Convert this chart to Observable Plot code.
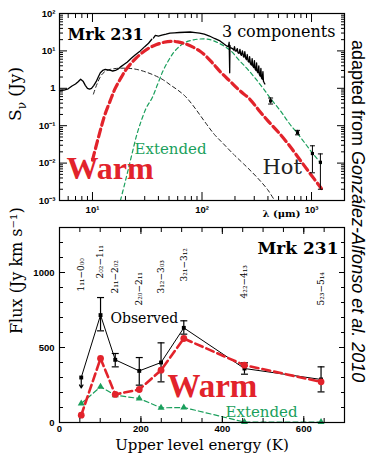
<!DOCTYPE html>
<html><head><meta charset="utf-8">
<script src="https://cdn.jsdelivr.net/npm/d3@7"></script>
<script src="https://cdn.jsdelivr.net/npm/@observablehq/plot@0.6"></script>
<style>
body{margin:0;background:#fff;}
#wrap{position:relative;width:368px;height:457px;overflow:hidden;font-family:"DejaVu Serif",serif;color:#000;}
#wrap svg{position:absolute;left:0;overflow:visible;}
.ylab{position:absolute;white-space:nowrap;transform:translate(-50%,-50%) rotate(-90deg);font-size:17px;font-family:"DejaVu Serif",serif;}
.ylab sub{font-size:12px;}
#credit{position:absolute;left:347px;top:40px;writing-mode:vertical-rl;font:18px "Liberation Sans",Arial,sans-serif;white-space:nowrap;}
</style></head><body><div id="wrap"></div>
<script>
// ---------- top panel data (SED of Mrk 231) ----------
const specALam = [5, 5.5, 6, 6.5, 7, 7.4, 7.8, 8.2, 8.6, 9.0, 9.4, 9.8, 10.3, 10.8, 11.3, 11.8, 12.4, 13.1, 13.8, 14.6, 15.3, 16.2, 17.2, 18.2, 19.5, 20.7, 22.5, 24.5, 27.3, 30, 32.5, 34.8];
const specAS   = [0.86, 0.9, 0.97, 1.15, 1.3, 1.5, 1.75, 1.55, 1.2, 1.0, 0.95, 1.0, 1.2, 1.5, 2.0, 2.6, 3.0, 3.2, 3.1, 3.0, 2.9, 3.0, 3.3, 3.8, 4.4, 5.0, 6.3, 7.8, 10, 13, 16, 20.5];
const specBLam = [36, 37.5, 40, 43, 47, 51, 56, 62, 70, 78, 87, 95, 105, 117, 130, 146, 158, 168, 174, 177, 179, 180, 181, 184, 190, 195, 198, 201, 205, 210, 213, 218, 222, 226, 229, 234, 239, 242, 246, 251, 255, 259, 264, 269, 272, 277, 283, 287, 291, 297, 301, 305, 311, 315, 319, 325, 330, 334, 340, 345, 349, 355, 360, 364, 370, 375];
const specBS   = [22, 26, 25, 26.5, 28, 30, 30.5, 31, 31.5, 32, 31, 30, 28, 25, 21.5, 18.5, 15.5, 13.6, 13, 17, 2.6, 14, 12, 12, 11.5, 10.5, 13, 10, 9.8, 11.5, 9, 8.6, 11, 8, 7.6, 10, 7, 6.8, 9.5, 6.2, 5.8, 8, 5.2, 5.0, 7, 4.5, 4.2, 6.2, 3.9, 3.6, 5.5, 3.3, 3.0, 4.8, 2.8, 2.6, 4, 2.3, 2.1, 3.4, 1.9, 1.75, 2.8, 1.55, 1.4, 1.3];
const photLam = [423, 745, 1019, 1205];
const photS   = [0.46, 0.065, 0.018, 0.0105];
const photLo  = [0.38, 0.057, 0.0055, 0.002];
const photHi  = [0.55, 0.075, 0.029, 0.0176];
const hotLam = [10.2, 11, 12, 13, 14.5, 16.5, 19, 22, 26, 31, 37, 44, 52, 60, 70, 82, 95, 110, 130, 155, 195, 240, 290, 345, 400, 460];
const hotS   = [0.7, 1.3, 2.2, 2.8, 3.2, 3.4, 3.45, 3.4, 3.15, 2.7, 2.2, 1.7, 1.2, 0.9, 0.62, 0.36, 0.2, 0.11, 0.058, 0.034, 0.017, 0.0095, 0.0055, 0.0032, 0.0019, 0.001];
const warmLam = [10, 11, 12, 13, 14.5, 16, 18, 20, 22, 25, 28, 33, 38, 45, 52, 60, 70, 82, 96, 110, 126, 150, 180, 220, 272, 330, 400, 500, 620, 780, 960, 1230];
const warmS   = [0.012, 0.035, 0.09, 0.2, 0.46, 0.95, 1.8, 3.0, 4.3, 6.4, 8.6, 12, 14.5, 17, 18, 17.5, 15.5, 12.8, 9.8, 7, 4.6, 2.6, 1.55, 0.88, 0.52, 0.26, 0.135, 0.066, 0.031, 0.0125, 0.0055, 0.0021];
const extLam = [18, 19.5, 21, 23, 25.5, 28, 31, 35, 39, 44, 49, 55, 61, 67, 75, 84, 96, 110, 125, 146, 180, 220, 257, 300, 357, 430, 520, 620, 745, 900, 1060, 1230];
const extS   = [0.001, 0.0025, 0.006, 0.018, 0.06, 0.14, 0.3, 0.55, 1.2, 2.9, 5.3, 9, 12.5, 15.5, 18.2, 19.8, 20.8, 20.8, 19, 15.5, 10.5, 5.5, 3.4, 2.0, 1.05, 0.5, 0.25, 0.12, 0.062, 0.03, 0.016, 0.0097];
const topXMajor = [10, 100, 1000];
const topXLabels = ["10¹", "10²", "10³"];
const topYMajor = [1e-3, 1e-2, 1e-1, 1, 10, 100];
const topYLabels = ["10⁻³", "10⁻²", "10⁻¹", "1", "10¹", "10²"];

// ---------- bottom panel data (H2O lines) ----------
const energies   = [53.4, 100.8, 136.9, 195.9, 249.4, 305.3, 454.3, 642.4];
const transitions = ["1₁₁−0₀₀", "2₀₂−1₁₁", "2₁₁−2₀₂", "2₂₀−2₁₁", "3₁₂−3₀₃", "3₂₁−3₁₂", "4₂₂−4₁₃", "5₂₃−5₁₄"];
const labelFlux  = [873, 960, 860, 780, 860, 940, 827, 780];
const observed   = [300, 716, 418, 344, 400, 631, 360, 287];
const obsLo      = [null, 611, 371, 249, 271, 589, 322, 204];
const obsHi      = [null, 833, 460, 433, 531, 678, 398, 371];
const upperLimitTo = 230;
const warmFlux   = [49, 427, 187, 220, 349, 560, 382, 271];
const extFlux    = [127, 238, 182, 160, 98, 100, 3, 3];
const botXMajor = [0, 200, 400, 600];
const botYMajor = [0, 500, 1000];

// ---------- styles ----------
const RED = "#e2232b", GREEN = "#1a9f5c";
const tickFont = {fontFamily: "Liberation Sans, Arial, sans-serif", fontSize: 9.5, fontWeight: "bold"};
const capSymbol = {draw(ctx, size) { const w = Math.sqrt(size / Math.PI); ctx.moveTo(-w, 0); ctx.lineTo(w, 0); }};
const rows = (xs, ys) => xs.map((x, i) => ({x, y: ys[i]}));

function minorLog(lo, hi) {
  const out = [];
  for (let d = 1e-3; d <= 1e3; d *= 10) for (let m = 2; m <= 9; m++) { const v = +(d * m).toPrecision(3); if (v >= lo && v <= hi) out.push(v); }
  return out;
}
// inward-pointing ticks: draw the axis ticks then shift them into the frame
function tickSet(kind, anchor, values, len) {
  const shift = anchor === "bottom" ? {dy: -len} : anchor === "top" ? {dy: len} : anchor === "left" ? {dx: len} : {dx: -len};
  const f = kind === "x" ? Plot.axisX : Plot.axisY;
  return f(values, {anchor, tickSize: len, tickFormat: () => null, label: null, strokeWidth: 1, ...shift});
}

// ---------- top plot ----------
const topX = [5, 2000], topY = [1e-3, 100];
const xMinorTop = minorLog(5, 2000), yMinorTop = minorLog(1e-3, 100);
const topPlot = Plot.plot({
  width: 368, height: 226,
  marginLeft: 59, marginRight: 24, marginTop: 13, marginBottom: 26,
  style: {background: "transparent", fontFamily: "DejaVu Serif, serif"},
  x: {type: "log", domain: topX},
  y: {type: "log", domain: topY},
  marks: [
    Plot.line(rows(hotLam, hotS), {x: "x", y: "y", stroke: "#222", strokeWidth: 1, strokeDasharray: "4,3", curve: "catmull-rom", clip: true}),
    Plot.line(rows(extLam, extS), {x: "x", y: "y", stroke: GREEN, strokeWidth: 1.2, strokeDasharray: "4,3", curve: "catmull-rom", clip: true}),
    Plot.line(rows(warmLam, warmS), {x: "x", y: "y", stroke: RED, strokeWidth: 3.2, strokeDasharray: "8,4", curve: "catmull-rom", clip: true}),
    Plot.line(rows(specALam, specAS), {x: "x", y: "y", stroke: "black", strokeWidth: 1.3}),
    Plot.line(rows(specBLam, specBS), {x: "x", y: "y", stroke: "black", strokeWidth: 1.3}),
    Plot.ruleX(photLam.map((l, i) => ({l, lo: photLo[i], hi: photHi[i]})), {x: "l", y1: "lo", y2: "hi", stroke: "black", strokeWidth: 1}),
    Plot.dot(photLam.flatMap((l, i) => [{l, v: photLo[i]}, {l, v: photHi[i]}]), {x: "l", y: "v", symbol: capSymbol, r: 2.5, stroke: "black", strokeWidth: 1, fill: "none"}),
    Plot.dot(rows(photLam, photS), {x: "x", y: "y", symbol: "square", r: 1.8, fill: "black"}),
    Plot.frame({stroke: "black", strokeWidth: 1.2}),
    tickSet("x", "bottom", topXMajor, 8), tickSet("x", "bottom", xMinorTop, 4),
    tickSet("x", "top", topXMajor, 8), tickSet("x", "top", xMinorTop, 4),
    tickSet("y", "left", topYMajor, 8), tickSet("y", "left", yMinorTop, 4),
    tickSet("y", "right", topYMajor, 8), tickSet("y", "right", yMinorTop, 4),
    Plot.axisX(topXMajor, {anchor: "bottom", tickSize: 0, tickPadding: 6, tickFormat: d => topXLabels[topXMajor.indexOf(d)], label: null, ...tickFont}),
    Plot.axisY(topYMajor, {anchor: "left", tickSize: 0, tickPadding: 4, tickFormat: d => topYLabels[topYMajor.indexOf(d)], label: null, ...tickFont}),
    Plot.text(["λ (μm)"], {frameAnchor: "bottom-left", dx: 203, dy: 16, fontSize: 10, fontWeight: "bold", fontFamily: "DejaVu Serif, serif"}),
    Plot.text(["Mrk 231"], {frameAnchor: "top-left", dx: 8, dy: 15, textAnchor: "start", fontSize: 16, fontWeight: "bold", fontFamily: "DejaVu Serif, serif"}),
    Plot.text(["3 components"], {frameAnchor: "top-right", dx: -9, dy: 12, textAnchor: "end", fontSize: 16, fontFamily: "DejaVu Serif, serif"}),
    Plot.text(["Extended"], {frameAnchor: "top-left", dx: 75, dy: 130, textAnchor: "start", fontSize: 15, fill: GREEN, fontFamily: "DejaVu Serif, serif"}),
    Plot.text(["Warm"], {frameAnchor: "bottom-left", dx: 7, dy: -22, textAnchor: "start", fontSize: 32, fontWeight: "bold", fill: RED, fontFamily: "Liberation Serif, serif"}),
    Plot.text(["Hot"], {frameAnchor: "bottom-left", dx: 203, dy: -27, textAnchor: "start", fontSize: 21, fill: "#222", fontFamily: "DejaVu Serif, serif"})
  ]
});

// ---------- bottom plot ----------
const obsRows = energies.map((e, i) => ({e, f: observed[i], lo: obsLo[i], hi: obsHi[i]}));
const errRows = obsRows.filter(d => d.lo != null);
const botPlot = Plot.plot({
  width: 368, height: 236,
  marginLeft: 59, marginRight: 24, marginTop: 6, marginBottom: 35,
  style: {background: "transparent", fontFamily: "DejaVu Serif, serif"},
  x: {domain: [0, 700]},
  y: {domain: [0, 1300]},
  marks: [
    Plot.line(rows(energies, extFlux), {x: "x", y: "y", stroke: GREEN, strokeWidth: 1.2, strokeDasharray: "5,3"}),
    Plot.dot(rows(energies, extFlux), {x: "x", y: "y", symbol: "triangle", r: 2.6, fill: GREEN}),
    Plot.line(obsRows, {x: "e", y: "f", stroke: "black", strokeWidth: 1}),
    Plot.ruleX(errRows, {x: "e", y1: "lo", y2: "hi", stroke: "black", strokeWidth: 1.2}),
    Plot.dot(errRows.flatMap(d => [{e: d.e, v: d.lo}, {e: d.e, v: d.hi}]), {x: "e", y: "v", symbol: capSymbol, r: 3.5, stroke: "black", strokeWidth: 1.2, fill: "none"}),
    Plot.arrow([obsRows[0]], {x1: "e", y1: "f", x2: "e", y2: () => upperLimitTo, stroke: "black", strokeWidth: 1.2, headLength: 5}),
    Plot.dot(obsRows, {x: "e", y: "f", symbol: "square", r: 2.2, fill: "black"}),
    Plot.line(rows(energies, warmFlux), {x: "x", y: "y", stroke: RED, strokeWidth: 2.6, strokeDasharray: "8,4"}),
    Plot.dot(rows(energies, warmFlux), {x: "x", y: "y", r: 3.4, fill: RED}),
    Plot.text(energies.map((e, i) => ({e, f: labelFlux[i], t: transitions[i]})), {x: "e", y: "f", text: "t", rotate: -90, textAnchor: "start", fontSize: 9, fontFamily: "DejaVu Serif, serif"}),
    Plot.frame({stroke: "black", strokeWidth: 1.2}),
    tickSet("x", "bottom", botXMajor, 6), tickSet("x", "bottom", d3.range(0, 701, 50), 4),
    tickSet("x", "top", botXMajor, 6), tickSet("x", "top", d3.range(0, 701, 50), 4),
    tickSet("y", "left", botYMajor, 6), tickSet("y", "left", d3.range(0, 1301, 100), 4),
    tickSet("y", "right", botYMajor, 6), tickSet("y", "right", d3.range(0, 1301, 100), 4),
    Plot.axisX(botXMajor, {anchor: "bottom", tickSize: 0, tickPadding: 3, tickFormat: d => String(d), label: null, ...tickFont}),
    Plot.axisY(botYMajor, {anchor: "left", tickSize: 0, tickPadding: 5, tickFormat: d => String(d), label: null, ...tickFont}),
    Plot.text(["Upper level energy (K)"], {frameAnchor: "bottom", dy: 27, fontSize: 15, fontFamily: "DejaVu Serif, serif"}),
    Plot.text(["Flux (Jy km s⁻¹)"], {frameAnchor: "left", dx: -43, dy: 9, rotate: -90, fontSize: 16, fontFamily: "DejaVu Serif, serif"}),
    Plot.text(["Observed"], {frameAnchor: "top-left", dx: 51, dy: 86, textAnchor: "start", fontSize: 14, fontFamily: "DejaVu Serif, serif"}),
    Plot.text(["Warm"], {frameAnchor: "top-left", dx: 108, dy: 146, textAnchor: "start", fontSize: 33, fontWeight: "bold", fill: RED, fontFamily: "Liberation Serif, serif"}),
    Plot.text(["Extended"], {frameAnchor: "top-left", dx: 166, dy: 179, textAnchor: "start", fontSize: 15, fill: GREEN, fontFamily: "DejaVu Serif, serif"}),
    Plot.text(["Mrk 231"], {frameAnchor: "top-right", dx: -6, dy: 14, textAnchor: "end", fontSize: 17, fontWeight: "bold", fontFamily: "DejaVu Serif, serif"})
  ]
});

const wrap = document.getElementById("wrap");
topPlot.style.top = "0px";
botPlot.style.top = "221px";
wrap.appendChild(topPlot);
wrap.appendChild(botPlot);
const yl = document.createElement("div");
yl.className = "ylab";
yl.style.left = "17px"; yl.style.top = "94px";
yl.innerHTML = "S<sub>ν</sub> (Jy)";
wrap.appendChild(yl);
const cr = document.createElement("div");
cr.id = "credit";
cr.innerHTML = "adapted from <i>González-Alfonso et al. 2010</i>";
wrap.appendChild(cr);
</script></body></html>
